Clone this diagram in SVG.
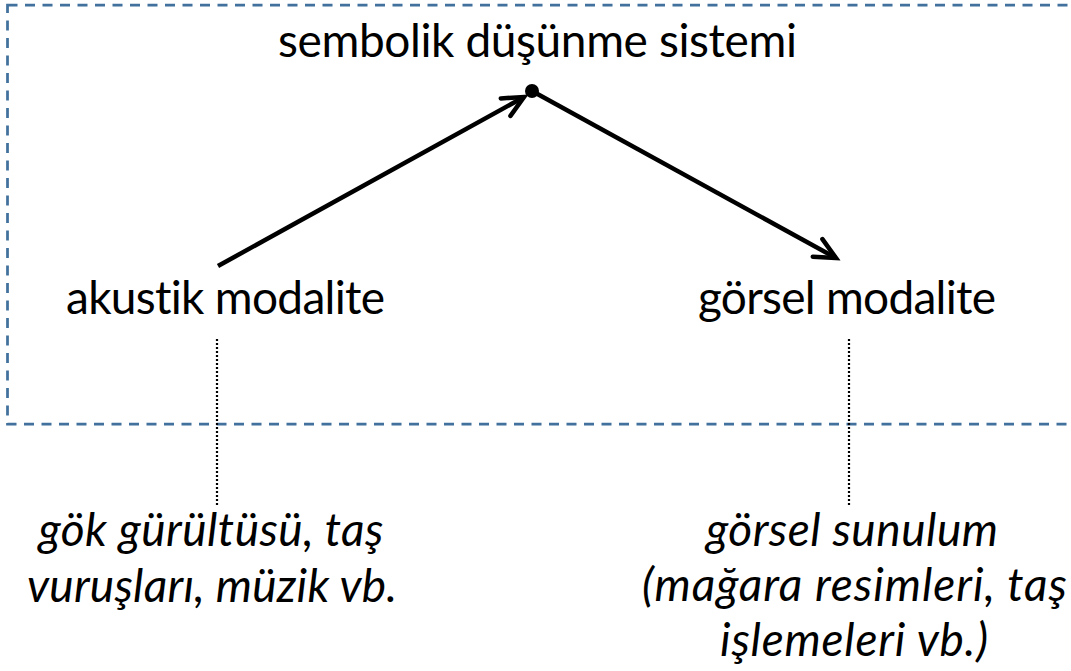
<svg xmlns="http://www.w3.org/2000/svg" width="1071" height="671" viewBox="0 0 1071 671">
  <style>
    .t { font-family: "Lato", "Liberation Sans", sans-serif; font-size: 46px; fill: #000; text-anchor: middle; font-variant-ligatures: none; font-feature-settings: "liga" 0, "clig" 0; }
    .i { font-style: italic; }
    .box { fill: none; stroke: #41719C; stroke-width: 2.75; stroke-dasharray: 10 7.5; }
    .arrow { fill: none; stroke: #000; stroke-width: 4.5; marker-end: url(#head); }
    .dot { fill: none; stroke: #000; stroke-width: 2.2; stroke-dasharray: 2 2; }
  </style>
  <defs>
    <marker id="head" markerUnits="userSpaceOnUse" markerWidth="40" markerHeight="40" viewBox="-30 -20 40 40" refX="0" refY="0" orient="auto">
      <path d="M -21,-10 L 0,0 L -21,10" fill="none" stroke="#000" stroke-width="4.5" stroke-linecap="round" stroke-linejoin="miter"/>
    </marker>
  </defs>
  <g id="frame">
    <rect class="box" x="7.5" y="5" width="1090" height="419"/>
  </g>
  <g id="connectors">
    <line class="arrow" x1="218" y1="266" x2="524" y2="97"/>
    <line class="arrow" x1="532" y1="91" x2="836" y2="258"/>
    <line class="dot" x1="217" y1="339" x2="217" y2="505"/>
    <line class="dot" x1="849" y1="339" x2="849" y2="505"/>
  </g>
  <g id="node-top">
    <text class="t" x="537.5" y="57" textLength="519">sembolik düşünme sistemi</text>
    <circle cx="532" cy="91" r="7" fill="#000"/>
  </g>
  <g id="node-akustik">
    <text class="t" x="225.5" y="314" textLength="319">akustik modalite</text>
  </g>
  <g id="node-gorsel">
    <text class="t" x="847" y="314" textLength="298">görsel modalite</text>
  </g>
  <g id="note-akustik">
    <text class="t i" x="211" y="546" textLength="345">gök gürültüsü, taş</text>
    <text class="t i" x="212" y="602" textLength="370">vuruşları, müzik vb.</text>
  </g>
  <g id="note-gorsel">
    <text class="t i" x="852" y="546" textLength="292">görsel sunulum</text>
    <text class="t i" x="854.5" y="601" textLength="425">(mağara resimleri, taş</text>
    <text class="t i" x="854" y="656" textLength="268">işlemeleri vb.)</text>
  </g>
</svg>
